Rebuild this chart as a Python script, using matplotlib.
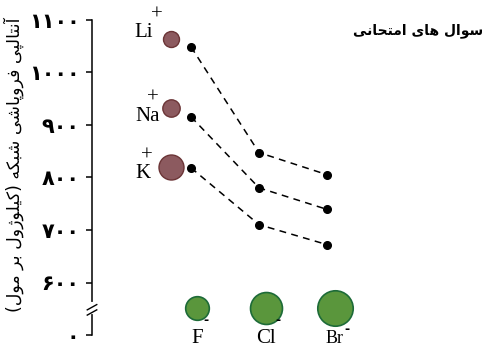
import matplotlib
matplotlib.use("Agg")
import matplotlib.pyplot as plt
from matplotlib.transforms import offset_copy, blended_transform_factory


# ---- data ----
anions = ["F", "Cl", "Br"]
cations = ["Li", "Na", "K"]
lattice_li = [1048, 847, 805]
lattice_na = [915, 780, 739]
lattice_k = [818, 710, 672]
tick_values = [500, 600, 700, 800, 900, 1000, 1100]
tick_labels = ["۰", "۶۰۰", "۷۰۰", "۸۰۰", "۹۰۰", "۱۰۰۰", "۱۱۰۰"]
ylabel_text = "آنتالپی فروپاشی شبکه (کیلوژول بر مول)"
title_text = "سوال های امتحانی"


# matplotlib 3.10 has no arabic shaping, so pick presentation forms by hand
FORMS = {
    "ا": ("\uFE8D", "\uFE8E", None, None),
    "آ": ("\uFE81", "\uFE82", None, None),
    "ب": ("\uFE8F", "\uFE90", "\uFE91", "\uFE92"),
    "پ": ("\uFB56", "\uFB57", "\uFB58", "\uFB59"),
    "ت": ("\uFE95", "\uFE96", "\uFE97", "\uFE98"),
    "ح": ("\uFEA1", "\uFEA2", "\uFEA3", "\uFEA4"),
    "ر": ("\uFEAD", "\uFEAE", None, None),
    "ژ": ("\uFB8A", "\uFB8B", None, None),
    "س": ("\uFEB1", "\uFEB2", "\uFEB3", "\uFEB4"),
    "ش": ("\uFEB5", "\uFEB6", "\uFEB7", "\uFEB8"),
    "ف": ("\uFED1", "\uFED2", "\uFED3", "\uFED4"),
    "ک": ("\uFB8E", "\uFB8F", "\uFB90", "\uFB91"),
    "ل": ("\uFEDD", "\uFEDE", "\uFEDF", "\uFEE0"),
    "م": ("\uFEE1", "\uFEE2", "\uFEE3", "\uFEE4"),
    "ن": ("\uFEE5", "\uFEE6", "\uFEE7", "\uFEE8"),
    "ه": ("\uFEE9", "\uFEEA", "\uFEEB", "\uFEEC"),
    "و": ("\uFEED", "\uFEEE", None, None),
    "ی": ("\uFBFC", "\uFBFD", "\uFBFE", "\uFBFF"),
}


def shape_rtl(s):
    out = []
    for i, ch in enumerate(s):
        if ch not in FORMS:
            out.append(ch)
            continue
        prev = s[i - 1] if i > 0 else ""
        nxt = s[i + 1] if i + 1 < len(s) else ""
        jp = prev in FORMS and FORMS[prev][2] is not None
        jn = FORMS[ch][2] is not None and nxt in FORMS
        iso, fin, ini, med = FORMS[ch]
        if jp and jn:
            out.append(med)
        elif jp:
            out.append(fin)
        elif jn:
            out.append(ini)
        else:
            out.append(iso)
    swap = {"(": ")", ")": "("}
    return "".join(swap.get(c, c) for c in reversed(out))


W, H, DPI = 488, 349, 100
fig = plt.figure(figsize=(W / DPI, H / DPI), dpi=DPI)

# axes spans full height; left spine sits at x=92px
ax = fig.add_axes([92 / W, 0, 1 - 92 / W, 1])
ax.set_ylim(1100 - 329.5 / 0.526, 1100 + 19.5 / 0.526)
ax.set_xlim(-99 / 68, (W - 191) / 68)

for sp in ["top", "right", "bottom"]:
    ax.spines[sp].set_visible(False)
ax.spines["left"].set_bounds(500, 1100)
ax.spines["left"].set_linewidth(1.1)
ax.set_xticks([])
ax.set_yticks(tick_values)
ax.set_yticklabels(tick_labels, fontfamily="DejaVu Sans", fontsize=15, fontweight="bold")
ax.tick_params(axis="y", direction="out", length=4, width=1.1, pad=5)

# axis break
bt = blended_transform_factory(ax.transAxes, ax.transData)
ax.plot([0, 0], [543, 560], color="white", lw=3, transform=bt, clip_on=False, zorder=5)
for yb in [542, 552]:
    ax.plot([-0.012, 0.012], [yb - 4, yb + 6], color="black", lw=1.0,
            transform=bt, clip_on=False, zorder=6)

x = list(range(len(anions)))
rows = [lattice_li, lattice_na, lattice_k]
for vals in rows:
    ax.plot(x, vals, ls=(0, (4.5, 3.5)), color="black", lw=1.1,
            marker="o", ms=5.5, mfc="black", mec="black")

# cation labels & circles, offsets in pixels from the F point of each row
cat_text_off = [(-38, 10), (-31, -4), (-41, -10)]
cat_plus_off = [(-34, 32), (-38, 19), (-44, 12)]
cat_circ_off = [(-20, 8), (-20, 9), (-20, 1)]
cat_circ_size = [11.5, 12.5, 18]
for i, (name, vals) in enumerate(zip(cations, rows)):
    ax.annotate(name, (x[0], vals[0]), xytext=cat_text_off[i], textcoords="offset pixels",
                ha="right", va="baseline", fontfamily="Liberation Serif", fontsize=15)
    ax.annotate("+", (x[0], vals[0]), xytext=cat_plus_off[i], textcoords="offset pixels",
                ha="center", va="center", fontfamily="Liberation Serif", fontsize=15)
    tr = offset_copy(ax.transData, fig=fig, x=cat_circ_off[i][0], y=cat_circ_off[i][1], units="dots")
    ax.plot([x[0]], [vals[0]], marker="o", ms=cat_circ_size[i], mfc="#8c5a5f",
            mec="#6b3436", mew=1.0, transform=tr, clip_on=False)

# anion circles & labels along the bottom
an_dx = [6, 7, 8]
an_size = [17, 23, 25.5]
an_font = [15, 15, 13]
an_minus_off = [(15, -13), (19, -13), (20, -22)]
ion_row_y = 552
for i, name in enumerate(anions):
    tr = offset_copy(ax.transData, fig=fig, x=an_dx[i], y=0, units="dots")
    ax.plot([x[i]], [ion_row_y], marker="o", ms=an_size[i], mfc="#5a963c",
            mec="#1d6b38", mew=1.2, transform=tr, clip_on=False)
    ax.annotate(name, (x[i], ion_row_y), xytext=(an_dx[i], -35), textcoords="offset pixels",
                ha="center", va="baseline", fontfamily="Liberation Serif", fontsize=an_font[i])
    ax.annotate("-", (x[i], ion_row_y), xytext=an_minus_off[i],
                textcoords="offset pixels", ha="center", va="center",
                fontfamily="DejaVu Sans", fontsize=9, fontweight="bold")

fig.text(14 / W, 1 - 165 / H, shape_rtl(ylabel_text), rotation=90, ha="center", va="center",
         fontfamily="DejaVu Sans", fontsize=12.5)
fig.text(483 / W, 1 - 31 / H, shape_rtl(title_text), ha="right", va="center",
         fontfamily="DejaVu Sans", fontsize=10, fontweight="bold")

fig.savefig("out.png", dpi=DPI)
